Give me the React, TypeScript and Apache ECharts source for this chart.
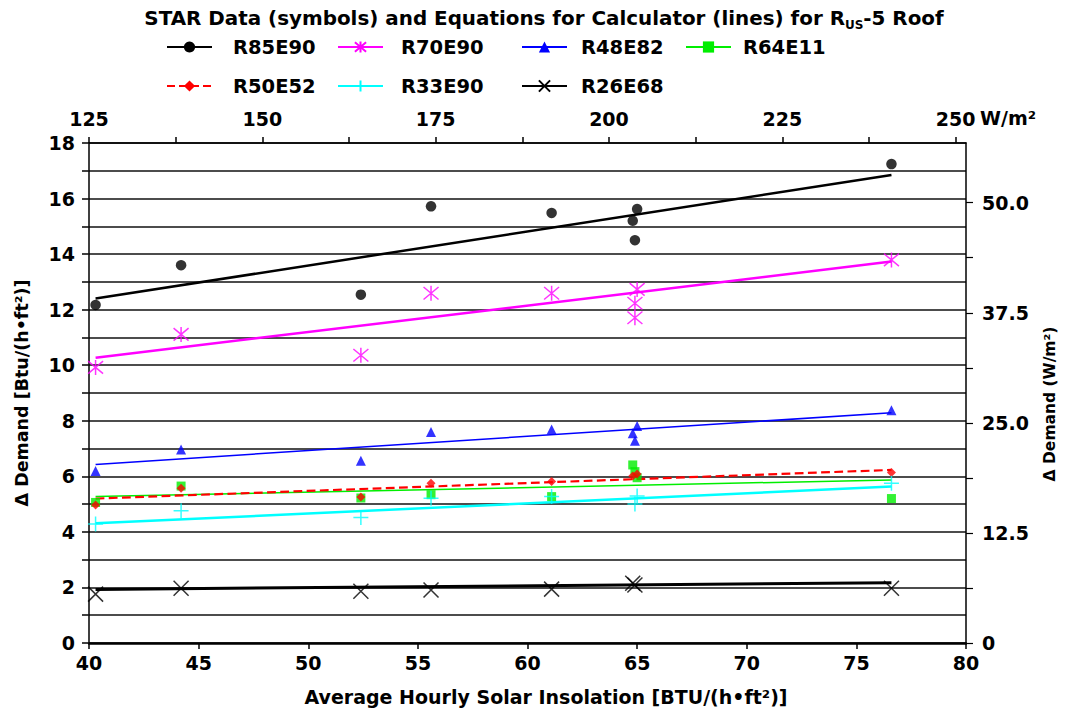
import React, { useEffect, useRef } from "react";
import * as echarts from "echarts";

const FONT = "DejaVu Sans";

const seriesNames = ["R85E90", "R70E90", "R48E82", "R64E11", "R50E52", "R33E90", "R26E68"];
const seriesColors = ["#000000", "#ff00ff", "#0000ff", "#00ee00", "#ff0000", "#00ffff", "#000000"];

// STAR data points [insolation BTU/(h·ft²), ΔDemand Btu/(h·ft²)]
const pointsR85E90 = [[40.3, 12.17], [44.2, 13.6], [52.4, 12.54], [55.6, 15.72], [61.1, 15.48], [65.0, 15.62], [64.8, 15.2], [64.9, 14.5], [76.6, 17.24]];
const pointsR70E90 = [[40.3, 9.92], [44.2, 11.11], [52.4, 10.36], [55.6, 12.59], [61.1, 12.59], [65.0, 12.73], [64.9, 12.23], [64.9, 11.71], [76.6, 13.79]];
const pointsR48E82 = [[40.3, 6.19], [44.2, 6.97], [52.4, 6.56], [55.6, 7.6], [61.1, 7.69], [65.0, 7.81], [64.8, 7.55], [64.9, 7.28], [76.6, 8.38]];
const pointsR64E11 = [[40.3, 5.06], [44.2, 5.65], [52.4, 5.22], [55.6, 5.34], [61.1, 5.27], [64.8, 6.41], [64.9, 6.17], [65.0, 5.95], [76.6, 5.2]];
const pointsR50E52 = [[40.3, 4.97], [44.2, 5.57], [52.4, 5.26], [55.6, 5.75], [61.1, 5.81], [65.0, 6.08], [64.8, 6.01], [76.6, 6.14]];
const pointsR33E90 = [[40.3, 4.28], [44.2, 4.76], [52.4, 4.52], [55.6, 5.21], [61.1, 5.27], [65.0, 5.29], [64.9, 5.0], [76.6, 5.75]];
const pointsR26E68 = [[40.3, 1.76], [44.2, 1.97], [52.4, 1.86], [55.6, 1.91], [61.1, 1.94], [64.8, 2.15], [64.9, 2.09], [76.6, 1.97]];

// Calculator equation lines (endpoints)
const lineR85E90 = [[40.3, 12.4], [76.6, 16.85]];
const lineR70E90 = [[40.3, 10.27], [76.6, 13.73]];
const lineR48E82 = [[40.3, 6.43], [76.6, 8.29]];
const lineR64E11 = [[40.3, 5.27], [76.6, 5.87]];
const lineR50E52 = [[40.3, 5.2], [76.6, 6.23]];
const lineR33E90 = [[40.3, 4.31], [76.6, 5.63]];
const lineR26E68 = [[40.3, 1.93], [76.6, 2.17]];

const allPoints = [pointsR85E90, pointsR70E90, pointsR48E82, pointsR64E11, pointsR50E52, pointsR33E90, pointsR26E68];
const allLines = [lineR85E90, lineR70E90, lineR48E82, lineR64E11, lineR50E52, lineR33E90, lineR26E68];

const ASTERISK = "path://M0,0L10,10M10,0L0,10M5,-1L5,11";
const PLUS = "path://M5,0L5,10M0,5L10,5";
const CROSS = "path://M0,0L10,10M10,0L0,10";

const symbols = ["circle", ASTERISK, "triangle", "rect", "diamond", PLUS, CROSS];
const symbolSizes = [10.5, 15, 10, 9, 9, 15, 15];
const strokeOnly = [false, true, false, false, false, true, true];
const lineWidths = [2.5, 2.5, 1.5, 1.5, 2.2, 2.5, 3];
const lineTypes = ["solid", "solid", "solid", "solid", "dashed", "solid", "solid"];

const bottomTicks = [40, 45, 50, 55, 60, 65, 70, 75, 80];
const topTicksWm2 = [125, 137.5, 150, 162.5, 175, 187.5, 200, 212.5, 225, 237.5, 250];
const rightTicksWm2 = [0, 6.25, 12.5, 18.75, 25, 31.25, 37.5, 43.75, 50];

// legend placement
const legendLeft = [166, 337, 521, 685, 166, 337, 521];
const legendTop = [36, 36, 36, 36, 75, 75, 75];
const legendTextPad = [16, 13, 9, 7, 16, 13, 9];

const tickFont = { fontFamily: FONT, fontWeight: "bold" as const, fontSize: 19, color: "#000" };

export default function App() {
  const ref = useRef<HTMLDivElement>(null);
  useEffect(() => {
    if (!ref.current) return;
    const chart = echarts.init(ref.current, null, { renderer: "svg" });

    const series: any[] = [];
    seriesNames.forEach((name, i) => {
      const color = seriesColors[i];
      const itemStyle = strokeOnly[i]
        ? { color: "transparent", borderColor: color, borderWidth: 1.5 }
        : { color: color, borderWidth: 0 };
      series.push({
        name,
        type: "line",
        xAxisIndex: 0,
        yAxisIndex: 0,
        data: allLines[i],
        symbol: symbols[i],
        showSymbol: false,
        lineStyle: { color, width: lineWidths[i], type: lineTypes[i] },
        itemStyle,
        z: 3,
        silent: true,
      });
      series.push({
        name,
        type: "scatter",
        xAxisIndex: 0,
        yAxisIndex: 0,
        data: allPoints[i],
        symbol: symbols[i],
        symbolSize: symbolSizes[i],
        itemStyle,
        z: 4,
        silent: true,
      });
    });

    const legends = seriesNames.map((name, i) => ({
      data: [name],
      left: legendLeft[i],
      top: legendTop[i],
      padding: 0,
      itemWidth: 45,
      itemHeight: 14,
      selectedMode: false,
      textStyle: {
        fontFamily: FONT,
        fontWeight: "bold",
        fontSize: 19.5,
        color: "#000",
        lineHeight: 22,
        padding: [0, 0, 0, legendTextPad[i]],
      },
    }));

    chart.setOption({
      animation: false,
      backgroundColor: "#fff",
      grid: { left: 89, right: 101, top: 143, bottom: 71, containLabel: false },
      legend: legends,
      xAxis: [
        {
          type: "value",
          position: "bottom",
          min: 40,
          max: 80,
          interval: 5,
          axisLine: { show: true, onZero: false, lineStyle: { color: "#000", width: 2.5 } },
          axisTick: { show: true, inside: false, length: 6, lineStyle: { color: "#000", width: 1.5 }, customValues: bottomTicks },
          axisLabel: { ...tickFont, margin: 10, customValues: bottomTicks },
          splitLine: { show: false },
        },
        {
          type: "value",
          position: "top",
          min: 125,
          max: 251.5,
          interval: 12.5,
          axisLine: { show: true, onZero: false, lineStyle: { color: "#000", width: 1.5 } },
          axisTick: { show: true, inside: false, length: 6, lineStyle: { color: "#000", width: 1.5 }, customValues: topTicksWm2 },
          axisLabel: {
            ...tickFont,
            margin: 15,
            customValues: [125, 150, 175, 200, 225, 250],
            formatter: (v: number) => (v % 25 === 0 ? String(v) : ""),
          },
          splitLine: { show: false },
        },
      ],
      yAxis: [
        {
          type: "value",
          position: "left",
          min: 0,
          max: 18,
          interval: 1,
          axisLine: { show: true, onZero: false, lineStyle: { color: "#000", width: 1.5 } },
          axisTick: { show: true, inside: false, length: 7, lineStyle: { color: "#111", width: 1.6 } },
          axisLabel: {
            ...tickFont,
            margin: 14,
            formatter: (v: number) => (v % 2 === 0 ? String(v) : ""),
          },
          splitLine: { show: true, lineStyle: { color: "#111", width: 1.6 } },
        },
        {
          type: "value",
          position: "right",
          min: 0,
          max: 56.78,
          interval: 6.25,
          axisLine: { show: true, onZero: false, lineStyle: { color: "#000", width: 1.5 } },
          axisTick: { show: true, inside: false, length: 7, lineStyle: { color: "#000", width: 1.2 }, customValues: rightTicksWm2 },
          axisLabel: {
            ...tickFont,
            margin: 16,
            customValues: [0, 12.5, 25, 37.5, 50],
            formatter: (v: number) => (v === 0 ? "0" : v % 12.5 === 0 ? v.toFixed(1) : ""),
          },
          splitLine: { show: false },
        },
      ],
      graphic: [
        {
          type: "text",
          x: 544,
          y: 18,
          style: {
            text: "{a|STAR Data (symbols) and Equations for Calculator (lines) for R}{s|US}{a|-5 Roof}",
            textAlign: "center",
            textVerticalAlign: "middle",
            fill: "#000",
            rich: {
              a: { fontFamily: FONT, fontWeight: "bold", fontSize: 19.9, lineHeight: 26, fill: "#000" },
              s: { fontFamily: FONT, fontWeight: "bold", fontSize: 12, lineHeight: 14, verticalAlign: "bottom", fill: "#000" },
            },
          },
        },
        {
          type: "text",
          x: 980,
          y: 118,
          style: {
            text: "W/m²",
            fontFamily: FONT,
            fontWeight: "bold",
            fontSize: 19,
            fill: "#000",
            textAlign: "left",
            textVerticalAlign: "middle",
          },
        },
        {
          type: "text",
          x: 546,
          y: 697,
          style: {
            text: "Average Hourly Solar Insolation [BTU/(h•ft²)]",
            fontFamily: FONT,
            fontWeight: "bold",
            fontSize: 19,
            fill: "#000",
            textAlign: "center",
            textVerticalAlign: "middle",
          },
        },
        {
          type: "text",
          x: 22,
          y: 393,
          rotation: Math.PI / 2,
          style: {
            text: "Δ Demand [Btu/(h•ft²)]",
            fontFamily: FONT,
            fontWeight: "bold",
            fontSize: 17.5,
            fill: "#000",
            textAlign: "center",
            textVerticalAlign: "middle",
          },
        },
        {
          type: "text",
          x: 1050,
          y: 404,
          rotation: Math.PI / 2,
          style: {
            text: "Δ Demand (W/m²)",
            fontFamily: FONT,
            fontWeight: "bold",
            fontSize: 15.5,
            fill: "#000",
            textAlign: "center",
            textVerticalAlign: "middle",
          },
        },
      ],
      series,
    });

    return () => chart.dispose();
  }, []);

  return <div ref={ref} style={{ position: "absolute", left: 0, top: 0, width: 1067, height: 714 }} />;
}
